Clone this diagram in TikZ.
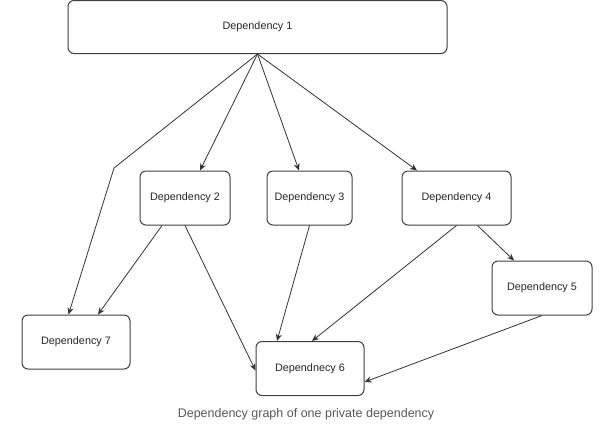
\documentclass[tikz,border=0pt]{standalone}
\usepackage{fontspec}
\setmainfont{Liberation Sans}
\usetikzlibrary{arrows.meta}

\begin{document}
\begin{tikzpicture}[x=1pt, y=-1pt,
	box/.style = {draw = black!75, line width = 1pt, rounded corners = 6pt, fill = white,
		inner sep = 0pt, font = \fontsize{10.8}{13}\selectfont, text = black!85},
	dep/.style = {draw = black!80, line width = 0.8pt, -{Stealth[length = 7pt, width = 6pt]}}]
	\useasboundingbox (0,0) rectangle (612,424);
	% boxes
	\node[box, minimum width = 379pt, minimum height = 53pt] (d1) at (257.5,27) {Dependency 1};
	\node[box, minimum width = 90pt, minimum height = 54pt] (d2) at (185,198) {Dependency 2};
	\node[box, minimum width = 85pt, minimum height = 54pt] (d3) at (309.5,198) {Dependency 3};
	\node[box, minimum width = 109pt, minimum height = 54pt] (d4) at (456.5,198) {Dependency 4};
	\node[box, minimum width = 100pt, minimum height = 54pt] (d5) at (542,288) {Dependency 5};
	\node[box, minimum width = 108pt, minimum height = 54pt] (d6) at (310,368.5) {Dependnecy 6};
	\node[box, minimum width = 108pt, minimum height = 54pt] (d7) at (76,342) {Dependency 7};
	\coordinate (bend) at (114,168);
	% edges
	\draw[dep] (d1.south) -- ([xshift = 15pt]d2.north);
	\draw[dep] (d1.south) -- ([xshift = -10.5pt]d3.north);
	\draw[dep] (d1.south) -- ([xshift = -39.5pt]d4.north);
	\draw[dep] (d1.south) -- (bend) -- ([xshift = -7.5pt]d7.north);
	\draw[dep] ([xshift = -23pt]d2.south) -- ([xshift = 22pt]d7.north);
	\draw[dep] (d2.south) -- ([yshift = -2pt]d6.west);
	\draw[dep] (d3.south) -- ([xshift = -33pt]d6.north);
	\draw[dep] (d4.south) -- ([xshift = 2pt]d6.north);
	\draw[dep] ([xshift = 21pt]d4.south) -- ([xshift = -28pt]d5.north);
	\draw[dep] (d5.south) -- ([yshift = -13.5pt]d6.east);
	% caption
	\node[font = \fontsize{12.5}{15}\selectfont, text = black!65] (cap) at (306,414) {Dependency graph of one private dependency};
\end{tikzpicture}
\end{document}
